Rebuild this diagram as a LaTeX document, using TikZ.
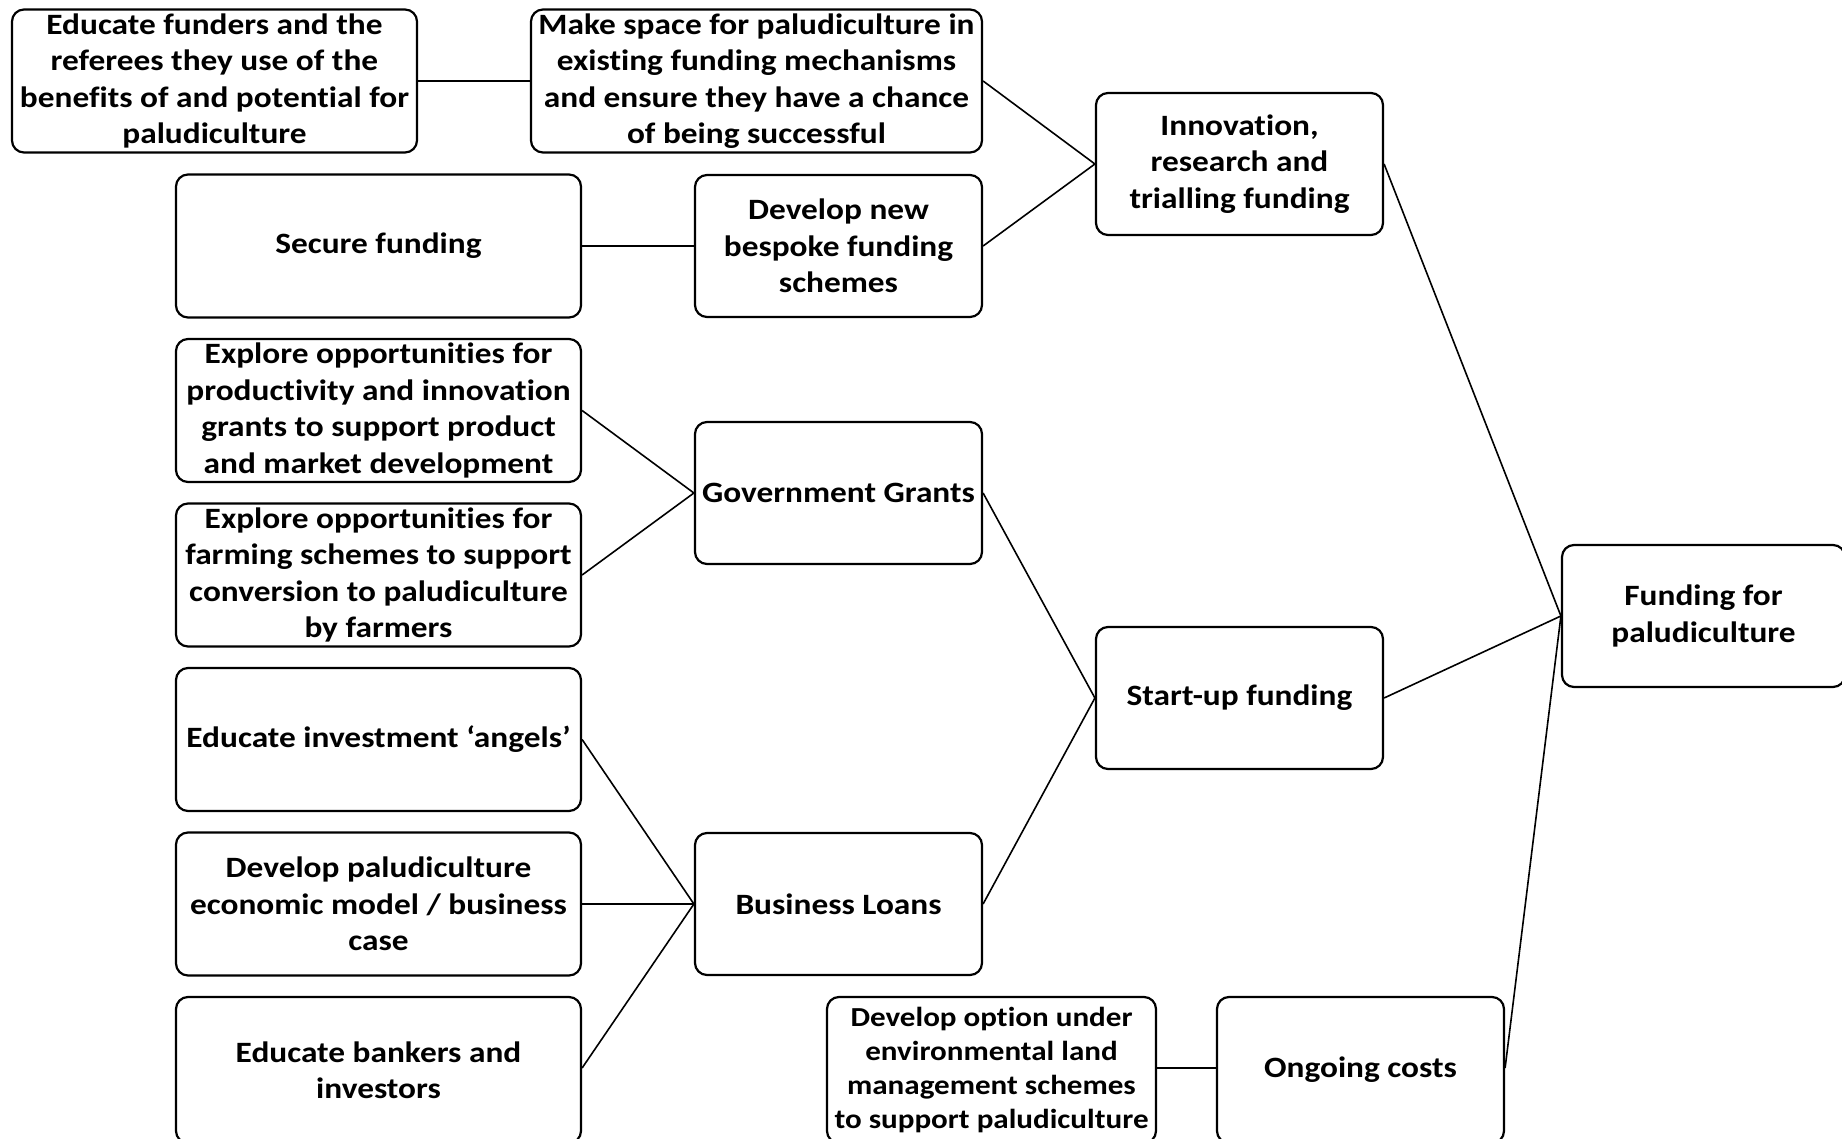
\documentclass[tikz,border=0pt]{standalone}
\usepackage{fontspec}
\setmainfont{Carlito}[FakeStretch=1.13, Ligatures=NoCommon]
\tikzset{
  box/.style={draw=black, line width=2.2pt, rounded corners=12pt, align=center, inner sep=0pt,
    font=\fontsize{29.5}{36.4}\selectfont\bfseries, text=black},
  smallbox/.style={box, font=\fontsize{27.5}{34}\selectfont\bfseries},
  wide/.style={minimum width=405pt, minimum height=143pt},
  mid/.style={minimum width=287pt, minimum height=142pt},
  link/.style={draw=black, line width=1.6pt}
}
\begin{document}
\begin{tikzpicture}[x=1pt,y=-1pt]
\useasboundingbox[fill=white] (0,0) rectangle (1842,1139);
% column 1
\node[box, wide] (EF) at (214.5,81) {Educate funders and the\\referees they use of the\\benefits of and potential for\\paludiculture};
\node[box, wide] (SF) at (378.5,246) {Secure funding};
\node[box, wide] (EP) at (378.5,410.5) {Explore opportunities for\\productivity and innovation\\grants to support product\\and market development};
\node[box, wide] (EFa) at (378.5,575) {Explore opportunities for\\farming schemes to support\\conversion to paludiculture\\by farmers};
\node[box, wide] (EA) at (378.5,739.5) {Educate investment ‘angels’};
\node[box, wide] (DP) at (378.5,904) {Develop paludiculture\\economic model / business\\case};
\node[box, wide, minimum height=146pt] (EB) at (378.5,1070) {Educate bankers and\\investors};
% column 2
\node[box, minimum width=451pt, minimum height=143pt] (MS) at (756.5,81) {Make space for paludiculture in\\existing funding mechanisms\\and ensure they have a chance\\of being successful};
\node[box, mid] (DN) at (838.5,246) {Develop new\\bespoke funding\\schemes};
\node[box, mid] (GG) at (838.5,493) {Government Grants};
\node[box, mid] (BL) at (838.5,904) {Business Loans};
\node[smallbox, minimum width=329pt, minimum height=146pt] (DO) at (991.5,1070) {Develop option under\\environmental land\\management schemes\\to support paludiculture};
% column 3
\node[box, mid] (IN) at (1239.5,164) {Innovation,\\research and\\trialling funding};
\node[box, mid] (SU) at (1239.5,698) {Start-up funding};
\node[box, mid, minimum height=146pt] (OC) at (1360.5,1070) {Ongoing costs};
% root
\node[box, minimum width=283pt, minimum height=142pt] (FP) at (1703.5,616) {Funding for\\paludiculture};
% connectors
\draw[link] (EF.east) -- (MS.west);
\draw[link] (SF.east) -- (DN.west);
\draw[link] (MS.east) -- (IN.west);
\draw[link] (DN.east) -- (IN.west);
\draw[link] (EP.east) -- (GG.west);
\draw[link] (EFa.east) -- (GG.west);
\draw[link] (EA.east) -- (BL.west);
\draw[link] (DP.east) -- (BL.west);
\draw[link] (EB.east |- 0,1068) coordinate (ebe) -- (BL.west);
\draw[link] (GG.east) -- (SU.west);
\draw[link] (BL.east) -- (SU.west);
\draw[link] (DO.east |- 0,1068) coordinate (doe) -- (OC.west |- 0,1068);
\draw[link] (IN.east) -- (FP.west);
\draw[link] (SU.east) -- (FP.west);
\draw[link] (OC.east |- 0,1068) -- (FP.west);
\end{tikzpicture}
\end{document}
